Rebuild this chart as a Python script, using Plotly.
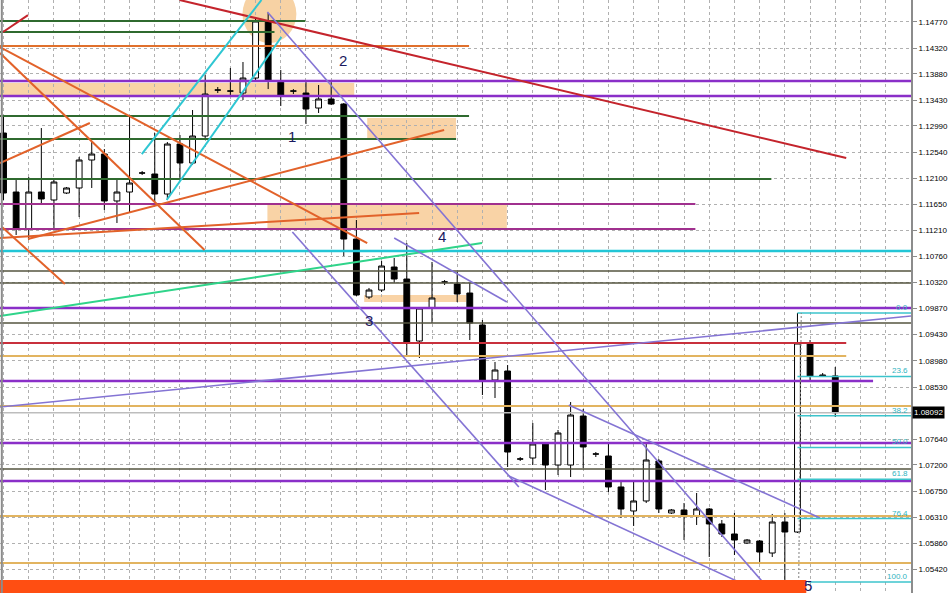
import plotly.graph_objects as go

# ---------------- candle data (bar index 0..66) ----------------
opens = [1.12869, 1.11861, 1.11229, 1.11861, 1.11725, 1.11844, 1.11930, 1.12408, 1.12510, 1.11708,
         1.11861, 1.12186, 1.12169, 1.11827, 1.12681, 1.12357, 1.12818, 1.13603, 1.13586, 1.13552,
         1.13808, 1.14782, 1.13757, 1.13586, 1.13552, 1.13296, 1.13450, 1.13364, 1.11058, 1.10068,
         1.10187, 1.10580, 1.10375, 1.09316, 1.09880, 1.10324, 1.10290, 1.10136, 1.09590, 1.08650,
         1.08804, 1.07301, 1.07318, 1.07557, 1.07198, 1.07198, 1.08035, 1.07386, 1.07352, 1.06823,
         1.06413, 1.06584, 1.07267, 1.06379, 1.06430, 1.06327, 1.06447, 1.06191, 1.06020, 1.05866,
         1.05900, 1.05695, 1.06225, 1.06054, 1.09282, 1.08736, 1.08719]
highs = [1.13142, 1.12066, 1.12117, 1.12954, 1.12066, 1.11947, 1.12459, 1.12715, 1.12596, 1.12083,
         1.13142, 1.12220, 1.12869, 1.12715, 1.12835, 1.13262, 1.13860, 1.13655, 1.13979, 1.14082,
         1.14833, 1.14919, 1.13945, 1.13620, 1.13740, 1.13689, 1.13740, 1.13381, 1.11383, 1.10222,
         1.10683, 1.10734, 1.10990, 1.09880, 1.10666, 1.10358, 1.10495, 1.10307, 1.09675, 1.08958,
         1.08906, 1.07335, 1.07916, 1.07591, 1.07796, 1.08274, 1.08155, 1.07420, 1.07574, 1.06908,
         1.06908, 1.07574, 1.07301, 1.06447, 1.06549, 1.06720, 1.06464, 1.06259, 1.06379, 1.05934,
         1.05917, 1.06362, 1.06379, 1.09795, 1.09333, 1.08770, 1.08872]
lows = [1.11725, 1.11127, 1.11041, 1.11639, 1.11212, 1.11827, 1.11434, 1.11930, 1.11554, 1.11332,
        1.11520, 1.12152, 1.11690, 1.11725, 1.12100, 1.12323, 1.12749, 1.13552, 1.13518, 1.13433,
        1.13774, 1.13620, 1.13330, 1.13535, 1.13023, 1.13211, 1.13347, 1.10768, 1.10085, 1.10034,
        1.10153, 1.10307, 1.09043, 1.09026, 1.09624, 1.10273, 1.09982, 1.09333, 1.08394, 1.08343,
        1.07164, 1.07267, 1.07198, 1.06771, 1.07028, 1.06993, 1.07147, 1.07335, 1.06737, 1.06293,
        1.06157, 1.06549, 1.06379, 1.06362, 1.05917, 1.06174, 1.05627, 1.05969, 1.05661, 1.05849,
        1.05542, 1.05627, 1.05200, 1.06037, 1.08650, 1.08701, 1.08018]
closes = [1.11844, 1.11246, 1.11861, 1.11742, 1.12032, 1.11930, 1.12408, 1.12510, 1.11708, 1.11861,
          1.12015, 1.12186, 1.11827, 1.12681, 1.12357, 1.12818, 1.13535, 1.13603, 1.13586, 1.13808,
          1.14782, 1.13774, 1.13501, 1.13586, 1.13279, 1.13450, 1.13364, 1.11058, 1.10102, 1.10187,
          1.10597, 1.10375, 1.09299, 1.09880, 1.10051, 1.10324, 1.10119, 1.09624, 1.08650, 1.08821,
          1.07420, 1.07301, 1.07557, 1.07198, 1.07745, 1.08052, 1.07506, 1.07386, 1.06823, 1.06447,
          1.06584, 1.07284, 1.06447, 1.06430, 1.06327, 1.06447, 1.06191, 1.06020, 1.05917, 1.05917,
          1.05712, 1.06225, 1.06054, 1.09282, 1.08719, 1.08719, 1.08092]
bar_index = list(range(len(opens)))
current_price = 1.08092

# ---------------- price scale ----------------
price_ticks = [1.14770, 1.14320, 1.13880, 1.13430, 1.12990, 1.12540, 1.12100, 1.11650, 1.11210,
               1.10760, 1.10320, 1.09870, 1.09430, 1.08980, 1.08530, 1.08090, 1.07640, 1.07200,
               1.06750, 1.06310, 1.05860, 1.05420, 1.04970]
price_range = [1.05012, 1.15141]
bar_range = [-0.28, 72.01]

# ---------------- horizontal levels: (price, end bar index or None = full width) ----------------
green_levels = [(1.14782, 23.95), (1.14594, 21.5), (1.13159, 36.94), (1.12766, 35.91), (1.12083, 60.93)]
orange_levels = [(1.14355, 36.94)]
violet_levels = [(1.13757, None), (1.13501, None), (1.09880, None), (1.08633, 69.0),
                 (1.07574, None), (1.06925, None)]
magenta_levels = [(1.11656, 54.9), (1.11229, 54.9)]
cyan_levels = [(1.10854, None)]
olive_levels = [(1.10512, None), (1.10307, None), (1.09624, None), (1.07130, None)]
red_levels = [(1.09282, 66.87)]
gold_levels = [(1.09060, 66.87), (1.08206, None), (1.06327, None), (1.05525, None)]
bid_levels = [(1.08092, None)]

# ---------------- zones: (bar0, bar1, price0, price1) ----------------
peach_zones = [(-0.28, 27.83, 1.13518, 1.13723), (28.86, 35.91, 1.12766, 1.13125),
               (20.94, 39.94, 1.11229, 1.11673), (28.62, 36.7, 1.09982, 1.10102)]
red_zone = (-0.28, 63.7, 1.04900, 1.05234)
peach_ellipse = (18.96, 23.24, 1.14406, 1.15397)

# ---------------- trend lines: (bar0, price0, bar1, price1) ----------------
dark_red_lines = [(13.97, 1.15141, 66.87, 1.12442), (-0.04, 1.14594, 1.94, 1.14884)]
orange_lines = [(-0.28, 1.14338, 28.86, 1.10990), (-0.28, 1.14235, 15.95, 1.10871),
                (-0.12, 1.11263, 4.87, 1.10290), (-0.28, 1.12357, 6.85, 1.13040),
                (1.94, 1.11058, 34.96, 1.12920), (-0.28, 1.11076, 32.98, 1.11503)]
cyan_lines = [(10.97, 1.12510, 20.47, 1.15141), (12.95, 1.11725, 22.05, 1.14509)]
spring_lines = [(-0.28, 1.09743, 37.97, 1.10990)]
lavender_lines = [(20.94, 1.14936, 61.08, 1.04992), (22.92, 1.11178, 40.89, 1.06823),
                  (40.1, 1.07011, 60.45, 1.04992), (44.85, 1.08223, 64.8, 1.06293),
                  (31.0, 1.11076, 39.94, 1.09982), (-0.28, 1.08189, 72.01, 1.09743)]

# ---------------- Fibonacci retracement ----------------
fib_high = 1.09795
fib_low = 1.05200
fib_ratios = [0.0, 23.6, 38.2, 50.0, 61.8, 76.4, 100.0]
fib_labels = ["0.0", "23.6", "38.2", "50.0", "61.8", "76.4", "100.0"]
fib_start = [63.0, 63.0, 63.0, 63.0, 63.0, 63.0, 63.86]

# ---------------- wave labels ----------------
wave_text = ["1", "2", "3", "4", "5"]
wave_bar = [22.92, 26.96, 29.02, 34.8, 63.86]
wave_price = [1.12801, 1.14116, 1.09675, 1.11093, 1.05140]

fig = go.Figure()
fig.add_trace(go.Candlestick(
    x=bar_index, open=opens, high=highs, low=lows, close=closes,
    increasing=dict(fillcolor="white", line=dict(color="black", width=1)),
    decreasing=dict(fillcolor="black", line=dict(color="black", width=1)),
    whiskerwidth=0, showlegend=False, hoverinfo="skip"))

shapes = []


def hline(levels, color, width):
    for p, end in levels:
        shapes.append(dict(type="line", xref="x", yref="y", x0=bar_range[0],
                           x1=(end if end is not None else bar_range[1] + 1),
                           y0=p, y1=p, line=dict(color=color, width=width), layer="above"))


def tline(lines, color, width):
    for b0, p0, b1, p1 in lines:
        shapes.append(dict(type="line", xref="x", yref="y", x0=b0, y0=p0, x1=b1, y1=p1,
                           line=dict(color=color, width=width), layer="above"))


for b0, b1, p0, p1 in peach_zones:
    shapes.append(dict(type="rect", xref="x", yref="y", x0=b0, x1=b1, y0=p0, y1=p1,
                       fillcolor="#f9d3a6", line=dict(width=0), layer="below"))
shapes.append(dict(type="circle", xref="x", yref="y", x0=peach_ellipse[0], x1=peach_ellipse[1],
                   y0=peach_ellipse[2], y1=peach_ellipse[3], fillcolor="#f7d2a4",
                   line=dict(width=0), layer="below"))

hline(green_levels, "#2f6a2f", 2)
hline(orange_levels, "#e0702c", 2)
hline(magenta_levels, "#a0308e", 2)
hline(cyan_levels, "#22c6d6", 2.5)
hline(olive_levels, "#55553f", 1.5)
hline(red_levels, "#c8303c", 2)
hline(gold_levels, "#e2b460", 2)
hline(bid_levels, "#bdbdbd", 1.5)
hline(violet_levels, "#8a2fc8", 2.5)

tline(dark_red_lines, "#c4242c", 2)
tline(orange_lines, "#e2622a", 2)
tline(cyan_lines, "#2ec6d2", 2)
tline(spring_lines, "#2fd48a", 2)
tline(lavender_lines, "#8474d4", 1.6)

span = fib_high - fib_low
fib_levels = [fib_high - r / 100.0 * span for r in fib_ratios]
for x0, lv in zip(fib_start, fib_levels):
    shapes.append(dict(type="line", xref="x", yref="y", x0=x0, x1=bar_range[1] + 1, y0=lv, y1=lv,
                       line=dict(color="#3cc4cc", width=1.5), layer="above"))
shapes.append(dict(type="line", xref="x", yref="y", x0=63.1, x1=63.3, y0=fib_low, y1=fib_high,
                   line=dict(color="#808080", width=1, dash="2px,2px"), layer="above"))

shapes.append(dict(type="rect", xref="x", yref="y", x0=red_zone[0], x1=red_zone[1],
                   y0=red_zone[2], y1=red_zone[3], fillcolor="#ff4e12",
                   line=dict(width=0), layer="above"))
shapes.append(dict(type="line", xref="paper", yref="paper", x0=0.002, x1=0.002, y0=0, y1=1,
                   line=dict(color="#8c8c8c", width=2)))

annotations = []
for lab, lv in zip(fib_labels, fib_levels):
    annotations.append(dict(x=71.95, y=lv, xref="x", yref="y", text=lab, showarrow=False,
                            xanchor="right", yanchor="bottom", yshift=-1,
                            font=dict(family="Liberation Sans", size=8, color="#30b4c0")))
for t, b, p in zip(wave_text, wave_bar, wave_price):
    annotations.append(dict(x=b, y=p, xref="x", yref="y", text=t, showarrow=False,
                            font=dict(family="Liberation Sans", size=15, color="#1a1a60")))
annotations.append(dict(x=1.0, y=current_price, xref="paper", yref="y",
                        text="%.5f" % current_price, showarrow=False, xanchor="left",
                        xshift=1, bgcolor="black", borderpad=1,
                        font=dict(family="Liberation Sans", size=8, color="white")))

tick_text = ["" if abs(v - 1.08090) < 1e-6 else "%.5f" % v for v in price_ticks]

fig.update_layout(
    width=948, height=593, margin=dict(l=0, r=35, t=0, b=0),
    paper_bgcolor="white", plot_bgcolor="white",
    shapes=shapes, annotations=annotations, showlegend=False,
    boxgap=0.34,
    xaxis=dict(range=bar_range, rangeslider=dict(visible=False), showticklabels=False,
               tick0=0, dtick=2, showgrid=True, gridcolor="#b0b0b0", griddash="3px,3px",
               gridwidth=1, zeroline=False, ticks=""),
    yaxis=dict(range=price_range, side="right", tickvals=price_ticks, ticktext=tick_text,
               showgrid=True, gridcolor="#b0b0b0", griddash="3px,3px", gridwidth=1,
               zeroline=False, showline=True, linecolor="#8c8c8c", linewidth=2,
               ticks="outside", ticklen=4, tickcolor="#8c8c8c",
               tickfont=dict(family="Liberation Sans", size=8, color="black")),
)

fig.write_html("out.html", config={"displayModeBar": False},
               post_script="document.body.style.margin='0';document.body.style.overflow='hidden';")
